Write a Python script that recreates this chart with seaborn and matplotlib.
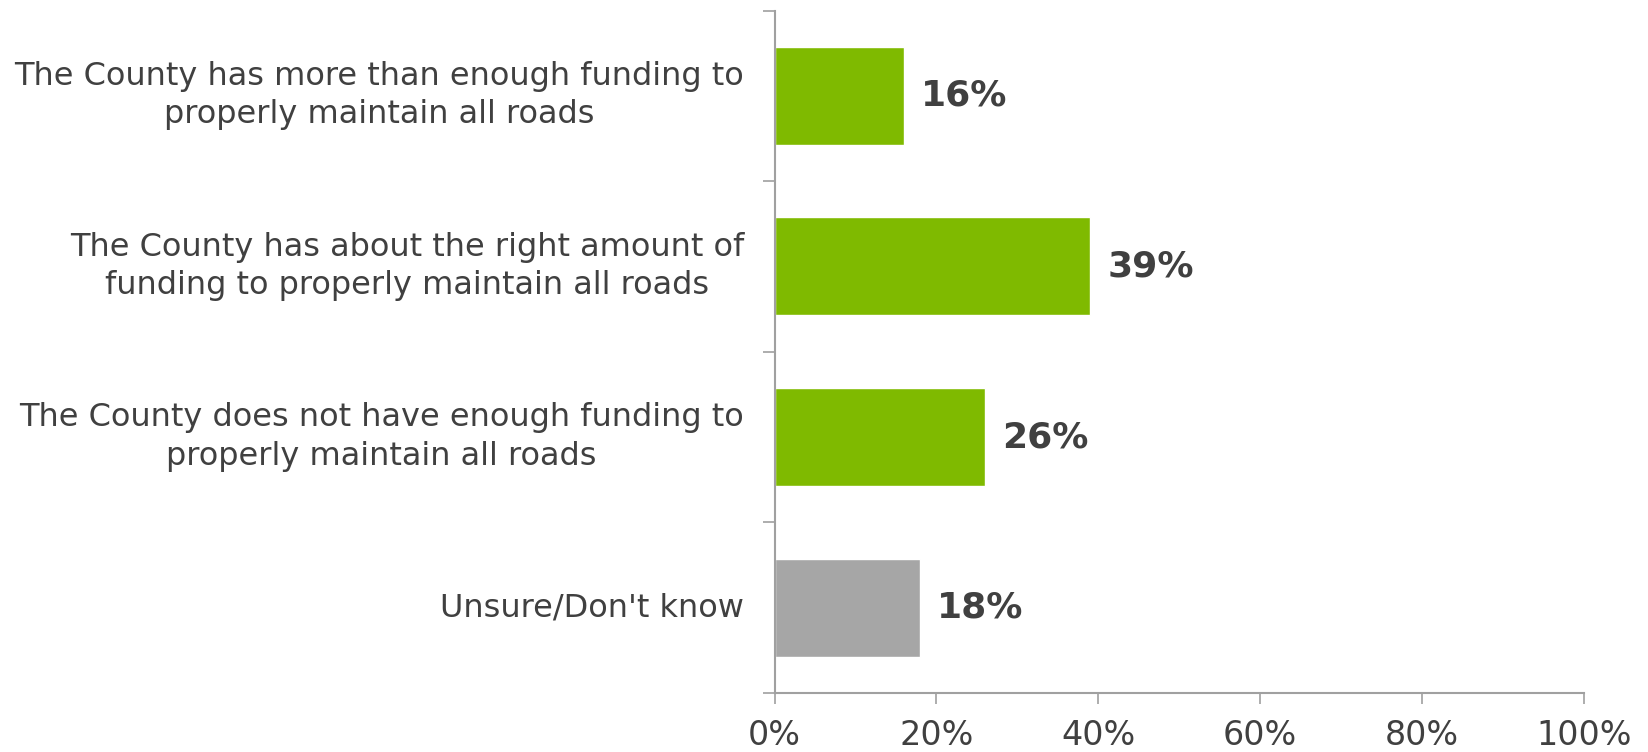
import matplotlib
matplotlib.use("Agg")
import matplotlib.pyplot as plt
import seaborn as sns
import pandas as pd

categories = [
    "The County has more than enough funding to\nproperly maintain all roads",
    "The County has about the right amount of\nfunding to properly maintain all roads",
    "The County does not have enough funding to\nproperly maintain all roads",
    "Unsure/Don't know",
]
values = [16, 39, 26, 18]
bar_colors = ["#7FBA00", "#7FBA00", "#7FBA00", "#A6A6A6"]
x_ticks = [0, 20, 40, 60, 80, 100]
x_tick_labels = ["0%", "20%", "40%", "60%", "80%", "100%"]

text_color = "#404040"
axis_color = "#A0A0A0"

sns.set_theme(style="white")
plt.rcParams["font.family"] = ["DejaVu Sans"]

df = pd.DataFrame({"category": categories, "value": values})

fig = plt.figure(figsize=(16.48, 7.52), dpi=100)
ax = fig.add_axes([0.470, 0.0785, 0.491, 0.9075])

sns.barplot(data=df, x="value", y="category", hue="category",
            palette=bar_colors, width=0.575, saturation=1,
            legend=False, ax=ax)

ax.set_xlim(0, 100)
ax.set_ylim(len(categories) - 0.5, -0.5)
ax.set_xlabel("")
ax.set_ylabel("")

ax.set_xticks(x_ticks)
ax.set_xticklabels(x_tick_labels, fontsize=24, color=text_color)
ax.tick_params(axis="x", direction="out", length=8, width=1.2,
               color=axis_color, pad=11, bottom=True)

# category labels at bar centres, boundary marks as minor ticks
ax.set_yticks(range(len(categories)))
ax.set_yticklabels(categories, fontsize=23, color=text_color,
                   multialignment="center", linespacing=1.3, va="center")
ax.tick_params(axis="y", which="major", length=0, pad=22, left=False)
ax.set_yticks([i - 0.5 for i in range(len(categories) + 1)], minor=True)
ax.tick_params(axis="y", which="minor", direction="out", length=9,
               width=1.2, color=axis_color, left=True)

for side in ["top", "right"]:
    ax.spines[side].set_visible(False)
for side in ["left", "bottom"]:
    ax.spines[side].set_color(axis_color)
    ax.spines[side].set_linewidth(1.5)

for i, v in enumerate(values):
    ax.text(v + 2.1, i, f"{v}%", va="center", ha="left",
            fontsize=26, fontweight="bold", color=text_color)

fig.savefig("out.png", dpi=100, facecolor="white")
